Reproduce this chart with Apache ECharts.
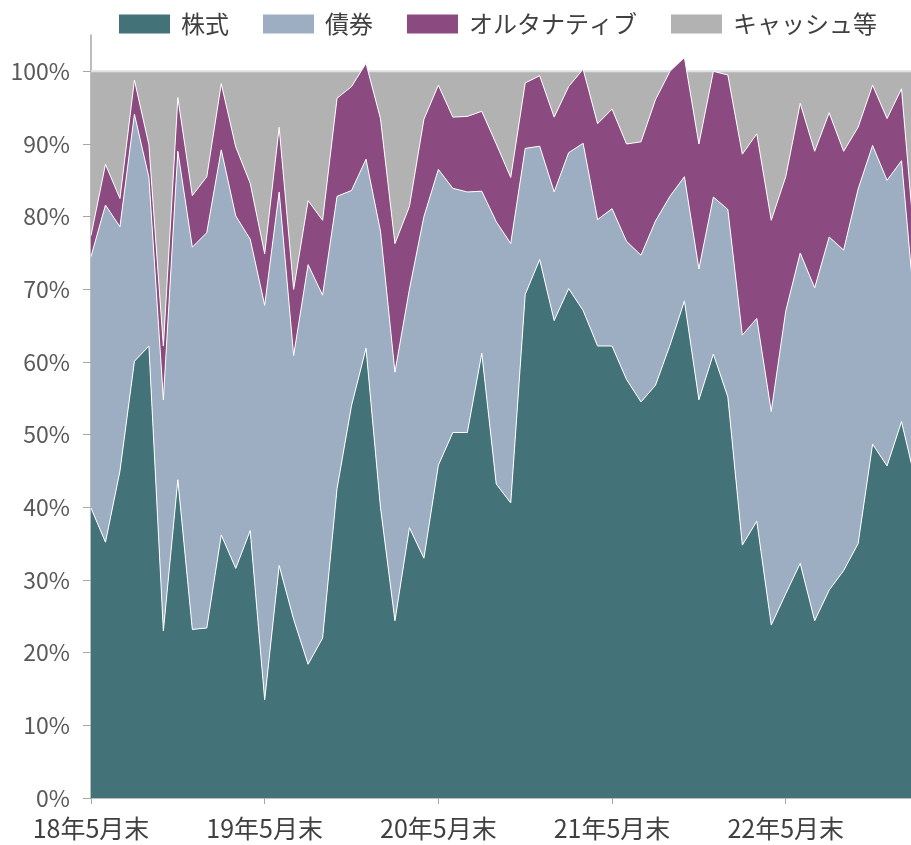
<!DOCTYPE html>
<html>
<head>
<meta charset="utf-8">
<script src="https://cdn.jsdelivr.net/npm/echarts@6/dist/echarts.min.js"></script>
<style>
  html, body { margin: 0; padding: 0; background: #fff; }
  #chart { width: 911px; height: 845px; }
</style>
</head>
<body>
<div id="chart"></div>
<script>
// 月末の基準日（18年5月末〜23年2月末）
const months = [
  '18年5月末', '18年6月末', '18年7月末', '18年8月末', '18年9月末', '18年10月末', '18年11月末', '18年12月末',
  '19年1月末', '19年2月末', '19年3月末', '19年4月末', '19年5月末', '19年6月末', '19年7月末', '19年8月末',
  '19年9月末', '19年10月末', '19年11月末', '19年12月末',
  '20年1月末', '20年2月末', '20年3月末', '20年4月末', '20年5月末', '20年6月末', '20年7月末', '20年8月末',
  '20年9月末', '20年10月末', '20年11月末', '20年12月末',
  '21年1月末', '21年2月末', '21年3月末', '21年4月末', '21年5月末', '21年6月末', '21年7月末', '21年8月末',
  '21年9月末', '21年10月末', '21年11月末', '21年12月末',
  '22年1月末', '22年2月末', '22年3月末', '22年4月末', '22年5月末', '22年6月末', '22年7月末', '22年8月末',
  '22年9月末', '22年10月末', '22年11月末', '22年12月末',
  '23年1月末', '23年2月末'
];

// 資産配分（%）
const stock = [
  39.9, 35.2, 45.0, 60.1, 62.2, 23.0, 43.8, 23.2, 23.4, 36.2, 31.6, 36.8,
  13.5, 32.0, 24.6, 18.4, 22.0, 42.6, 54.0, 61.9, 40.0, 24.4, 37.2, 33.0,
  45.8, 50.3, 50.3, 61.2, 43.2, 40.6, 69.3, 74.1, 65.7, 70.1, 67.1, 62.2,
  62.2, 57.6, 54.5, 56.8, 62.3, 68.4, 54.8, 61.1, 55.2, 34.8, 38.1, 23.8,
  28.1, 32.3, 24.4, 28.6, 31.3, 35.0, 48.7, 45.7, 51.8, 43.3
];
const bond = [
  34.6, 46.4, 33.6, 34.0, 23.2, 31.8, 45.2, 52.6, 54.4, 53.0, 48.5, 40.1,
  54.3, 51.4, 36.3, 55.0, 47.2, 40.2, 29.6, 26.0, 38.0, 34.2, 32.8, 47.0,
  40.7, 33.6, 33.1, 22.3, 36.1, 35.7, 20.1, 15.6, 17.7, 18.7, 23.0, 17.4,
  18.9, 19.0, 20.2, 22.6, 20.5, 17.1, 18.0, 21.6, 25.8, 28.9, 27.9, 29.4,
  38.9, 42.7, 45.8, 48.6, 44.1, 48.8, 41.1, 39.3, 35.9, 22.0
];
const alternative = [
  2.9, 5.6, 3.9, 4.7, 4.5, 7.4, 7.4, 7.1, 7.7, 9.1, 9.5, 7.7,
  7.1, 8.9, 9.1, 8.8, 10.3, 13.5, 14.3, 13.2, 15.5, 17.7, 11.4, 13.4,
  11.6, 9.8, 10.4, 11.0, 10.7, 9.1, 9.0, 9.7, 10.3, 9.1, 10.2, 13.2,
  13.7, 13.4, 15.6, 16.7, 17.2, 16.4, 17.2, 17.3, 18.5, 24.9, 25.4, 26.3,
  18.5, 20.6, 18.8, 17.1, 13.6, 8.5, 8.3, 8.5, 9.9, 8.7
];
const cash = [
  22.6, 12.8, 17.5, 1.2, 10.1, 37.8, 3.6, 17.1, 14.5, 1.7, 10.4, 15.4,
  25.1, 7.7, 30.0, 17.8, 20.5, 3.7, 2.1, -1.1, 6.5, 23.7, 18.6, 6.6,
  1.9, 6.3, 6.2, 5.5, 10.0, 14.6, 1.6, 0.6, 6.3, 2.1, -0.3, 7.2,
  5.2, 10.0, 9.7, 3.9, 0.0, -1.9, 10.0, 0.0, 0.5, 11.4, 8.6, 20.5,
  14.5, 4.4, 11.0, 5.7, 11.0, 7.7, 1.9, 6.5, 2.4, 26.0
];

const yTicks = [0, 10, 20, 30, 40, 50, 60, 70, 80, 90, 100];

const FONT = '"Noto Sans CJK JP", "Noto Sans", sans-serif';

const chart = echarts.init(document.getElementById('chart'));

const areaSeries = (name, data, color, lineColor, lineWidth, z) => ({
  name, type: 'line', stack: 'total', stackStrategy: 'all',
  data, symbol: 'none', smooth: false, z,
  lineStyle: { color: lineColor, width: lineWidth },
  areaStyle: { color, opacity: 1 },
  itemStyle: { color },
  emphasis: { disabled: true }
});

chart.setOption({
  animation: false,
  textStyle: { fontFamily: FONT },
  legend: {
    left: 119, top: 12, padding: 0,
    icon: 'rect', itemWidth: 51, itemHeight: 19, itemGap: 34,
    textStyle: { fontSize: 24, color: '#404040', fontFamily: FONT, padding: [0, 0, 0, 6] },
    data: ['株式', '債券', 'オルタナティブ', 'キャッシュ等']
  },
  // 右端は最終月の手前で切れている
  grid: { left: 91, width: 825, top: 35, bottom: 47, outerBoundsMode: 'none', containLabel: false },
  xAxis: {
    type: 'category', boundaryGap: false, data: months,
    axisLine: { lineStyle: { color: '#a6a6a6', width: 1.5 } },
    axisTick: { interval: 11, length: 6, lineStyle: { color: '#a6a6a6' } },
    axisLabel: { interval: 11, margin: 18, fontSize: 25, color: '#404040', fontFamily: FONT },
    splitLine: { show: false }
  },
  yAxis: {
    type: 'value', min: 0, max: 105, interval: 10,
    axisLine: { show: true, lineStyle: { color: '#a6a6a6', width: 1.5 } },
    axisTick: { show: true, length: 8, customValues: yTicks, lineStyle: { color: '#a6a6a6' } },
    axisLabel: {
      customValues: yTicks, margin: 21,
      fontSize: 23, color: '#595959', fontFamily: FONT,
      formatter: v => v + '%'
    },
    splitLine: { show: false }
  },
  series: [
    areaSeries('株式', stock, '#437379', '#ffffff', 1, 3),
    areaSeries('債券', bond, '#9daec2', '#ffffff', 1, 3),
    areaSeries('オルタナティブ', alternative, '#8b4b80', '#ffffff', 1, 3),
    areaSeries('キャッシュ等', cash, '#b2b2b2', '#dde1e1', 2, 2)
  ]
});
</script>
</body>
</html>
